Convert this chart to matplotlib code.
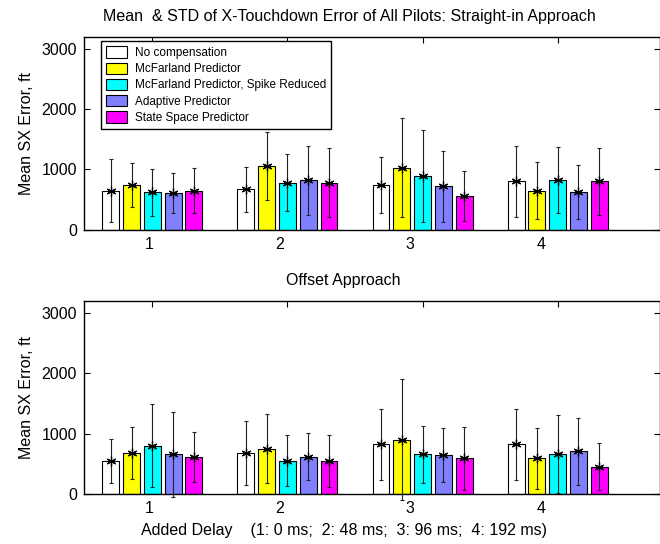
import numpy as np
import matplotlib
matplotlib.use("Agg")
import matplotlib.pyplot as plt
from matplotlib.transforms import ScaledTranslation

plt.rcParams['font.family'] = ['Liberation Sans', 'DejaVu Sans']

categories = [1, 2, 3, 4]
series = ["No compensation", "McFarland Predictor", "McFarland Predictor, Spike Reduced",
          "Adaptive Predictor", "State Space Predictor"]
colors = ["#ffffff", "#ffff00", "#00ffff", "#8080ff", "#ff00ff"]

# Straight-in approach: mean and std per series (rows) per delay (cols)
straight_mean = [
    [650, 670, 745, 805],
    [740, 1055, 1030, 650],
    [620, 780, 895, 825],
    [605, 820, 720, 625],
    [650, 780, 560, 805],
]
straight_std = [
    [530, 375, 465, 590],
    [370, 560, 825, 470],
    [395, 470, 765, 555],
    [335, 570, 595, 445],
    [370, 575, 420, 560],
]
# Offset approach
offset_mean = [
    [550, 680, 820, 820],
    [680, 750, 900, 590],
    [800, 550, 660, 660],
    [660, 615, 640, 705],
    [615, 550, 590, 455],
]
offset_std = [
    [365, 525, 580, 590],
    [425, 570, 1000, 510],
    [690, 420, 470, 640],
    [705, 390, 445, 555],
    [410, 430, 520, 385],
]

yticks = [0, 1000, 2000, 3000]
title_top = "Mean  & STD of X-Touchdown Error of All Pilots: Straight-in Approach"
title_bottom = "Offset Approach"
xlabel = "Added Delay    (1: 0 ms;  2: 48 ms;  3: 96 ms;  4: 192 ms)"
ylabel = "Mean SX Error, ft"

FS = 11.5

W, H = 660, 544
fig = plt.figure(figsize=(W / 100, H / 100), dpi=100)

left = 84 / W
width = 1.0 - left
ax1 = fig.add_axes([left, 1 - 229.7 / H, width, (229.7 - 37) / H])
ax2 = fig.add_axes([left, 1 - 494 / H, width, (494 - 300.7) / H])

n = len(series)
step = 0.1538
bw = 0.125
x = np.array(categories, dtype=float)
label_shift_px = [-3, -8, -13, -17]

def draw(ax, means, stds):
    for i in range(n):
        xs = x + (i - (n - 1) / 2) * step
        ax.bar(xs, means[i], width=bw, color=colors[i], edgecolor='black',
               linewidth=0.8, label=series[i], zorder=2)
        ax.errorbar(xs, means[i], yerr=stds[i], fmt='none', ecolor='#222222',
                    elinewidth=0.8, capsize=1.2, capthick=0.8, zorder=3, clip_on=False)
        ax.plot(xs, means[i], linestyle='none', marker=(6, 2, 0), markersize=7,
                markeredgewidth=0.9, color='black', zorder=4)
    ax.set_xlim(0.494, 4.757)
    ax.set_ylim(0, 3200)
    ax.set_xticks(categories)
    ax.set_yticks(yticks)
    ax.tick_params(direction='in', top=True, right=True, length=4, width=0.8,
                   labelsize=FS, pad=5)
    for lab, dx in zip(ax.get_xticklabels(), label_shift_px):
        lab.set_transform(lab.get_transform() + ScaledTranslation(dx / 100, 0, fig.dpi_scale_trans))
    for s in ax.spines.values():
        s.set_linewidth(1.0)
    ax.set_ylabel(ylabel, fontsize=FS, va='center')
    ax.yaxis.set_label_coords((27 - 84) / 576, 0.5)

draw(ax1, straight_mean, straight_std)
draw(ax2, offset_mean, offset_std)

ax1.set_title(title_top, fontsize=FS, x=(349 - 84) / 576, y=1 + 21 / 192.7,
              va='center', pad=0)
ax2.set_title(title_bottom, fontsize=FS, x=(343 - 84) / 576, y=1 + 20.7 / 193.3,
              va='center', pad=0)
ax2.set_xlabel(xlabel, fontsize=FS, va='center')
ax2.xaxis.set_label_coords((344 - 84) / 576, (494 - 530) / 193.3)

leg = ax1.legend(loc='upper left', bbox_to_anchor=((100.7 - 84) / 576, (229.7 - 41) / 192.7),
                 borderaxespad=0, fontsize=8.5, fancybox=False, edgecolor='black',
                 framealpha=1, handlelength=1.75, handleheight=1.1, labelspacing=0.3,
                 handletextpad=0.7, borderpad=0.45)
leg.get_frame().set_linewidth(1.0)

fig.savefig("out.png", dpi=100)
